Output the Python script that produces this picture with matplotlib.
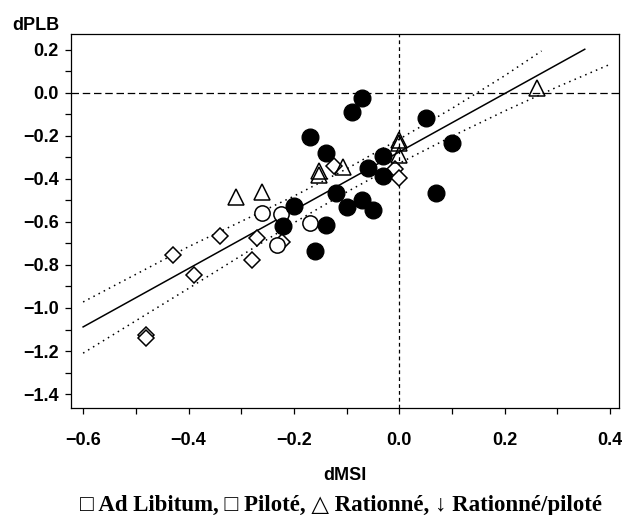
import numpy as np
import matplotlib
matplotlib.use("Agg")
import matplotlib.pyplot as plt
from matplotlib.ticker import MultipleLocator

# points (dMSI, dPLB)
filled_x = [-0.07, -0.09, 0.05, -0.17, -0.14, 0.10, -0.03, -0.06, -0.03,
            -0.12, 0.07, -0.07, -0.10, -0.05, -0.20, -0.14, -0.16, -0.22]
filled_y = [-0.025, -0.09, -0.115, -0.205, -0.28, -0.235, -0.295, -0.35, -0.385,
            -0.465, -0.465, -0.50, -0.53, -0.545, -0.525, -0.615, -0.735, -0.62]

circle_x = [-0.26, -0.225, -0.17, -0.232]
circle_y = [-0.557, -0.565, -0.605, -0.707]

tri_x = [-0.31, -0.26, -0.152, -0.152, -0.107, 0.0, 0.0, 0.0, 0.261]
tri_y = [-0.482, -0.462, -0.362, -0.38, -0.346, -0.218, -0.232, -0.288, 0.022]

diam_x = [-0.123, -0.009, 0.0, -0.34, -0.27, -0.43, -0.28, -0.39, -0.48, -0.48, -0.222]
diam_y = [-0.34, -0.355, -0.394, -0.665, -0.676, -0.753, -0.777, -0.847, -1.125, -1.14, -0.695]

# regression line and confidence band (clipped at 0.2 like the original)
fit_x = [-0.6, 0.352]
fit_y = [-1.088, 0.203]
upper_x = [-0.6, -0.4, -0.2, -0.1, 0.0, 0.1, 0.2, 0.27]
upper_y = [-0.972, -0.715, -0.48, -0.353, -0.215, -0.072, 0.08, 0.195]
lower_x = [-0.6, -0.4, -0.2, -0.1, 0.0, 0.1, 0.2, 0.3, 0.4]
lower_y = [-1.21, -0.909, -0.604, -0.461, -0.327, -0.202, -0.084, 0.028, 0.133]

fig = plt.figure(figsize=(6.22, 5.15), dpi=100)
ax = fig.add_axes([71/622, 1-408/515, (619-71)/622, (408-34)/515])

ax.axhline(0, color='black', lw=0.9, ls=(0, (6, 3)))
ax.axvline(0, color='black', lw=0.9, ls=(0, (3, 2.5)))

ax.plot(fit_x, fit_y, color='black', lw=1.1)
ax.plot(upper_x, upper_y, color='black', lw=1.1, ls=(0, (1, 2.8)))
ax.plot(lower_x, lower_y, color='black', lw=1.1, ls=(0, (1, 2.8)))

ax.plot(diam_x, diam_y, ls='none', marker='D', ms=8, mfc='white', mec='black', mew=1.1)
ax.plot(circle_x, circle_y, ls='none', marker='o', ms=11, mfc='white', mec='black', mew=1.1)
ax.plot(tri_x, tri_y, ls='none', marker='^', ms=11, mfc='none', mec='black', mew=1.1)
ax.plot(filled_x, filled_y, ls='none', marker='o', ms=12, color='black')

ax.set_xlim(-0.623, 0.417)
ax.set_ylim(-1.465, 0.274)
ax.xaxis.set_major_locator(MultipleLocator(0.2))
ax.xaxis.set_minor_locator(MultipleLocator(0.1))
ax.yaxis.set_major_locator(MultipleLocator(0.2))
ax.yaxis.set_minor_locator(MultipleLocator(0.1))
ax.tick_params(which='both', direction='out', length=4, width=0.9)
ax.tick_params(axis='x', pad=13)
ax.tick_params(axis='y', pad=5)
ax.xaxis.set_major_formatter(matplotlib.ticker.FuncFormatter(lambda v, p: f"{v:.1f}".replace('-', '\u2212')))
ax.yaxis.set_major_formatter(matplotlib.ticker.FuncFormatter(lambda v, p: f"{v:.1f}".replace('-', '\u2212')))
for lab in ax.get_xticklabels() + ax.get_yticklabels():
    lab.set_fontfamily('Liberation Sans')
    lab.set_fontweight('bold')
    lab.set_fontsize(13)
for s in ax.spines.values():
    s.set_linewidth(0.9)

fig.text(12/622, 1-25/515, 'dPLB', family='Liberation Sans', weight='bold', fontsize=13,
         ha='left', va='center')
fig.text(345/622, 1-475/515, 'dMSI', family='Liberation Sans', weight='bold', fontsize=13,
         ha='center', va='center')
fig.text(341/622, 1-505/515, '\u25a1 Ad Libitum, \u25a1 Pilot\u00e9, \u25b3 Rationn\u00e9, \u2193 Rationn\u00e9/pilot\u00e9',
         family=['Liberation Serif', 'DejaVu Serif'], weight='bold', fontsize=16.5,
         ha='center', va='center')

fig.savefig('out.png', dpi=100)
